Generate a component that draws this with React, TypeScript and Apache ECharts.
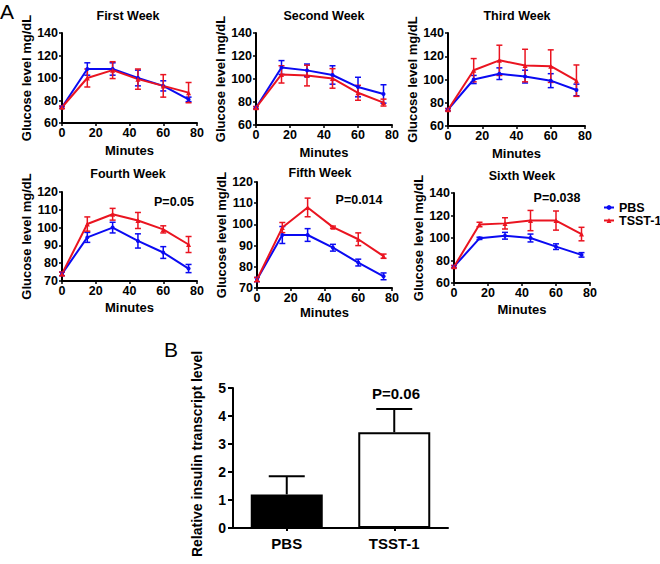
import React, { useEffect, useRef } from "react";
import * as echarts from "echarts";

// ---------- data ----------
const minutes = [0, 15, 30, 45, 60, 75];
const weekTitles = ["First Week", "Second Week", "Third Week", "Fourth Week", "Fifth Week", "Sixth Week"];
const pValues = ["", "", "", "P=0.05", "P=0.014", "P=0.038"];
const seriesNames = ["PBS", "TSST-1"];

const pbsMean = [
  [74, 108, 108, 100, 93, 81],
  [75, 110, 107.5, 103.5, 93, 87],
  [74, 100, 105, 102.5, 99, 91],
  [74, 94.5, 100, 92.5, 86, 77],
  [74, 95, 95, 89, 82, 75.5],
  [74.5, 99.7, 102, 100, 92.3, 85],
];
const pbsErr = [
  [1, 5.5, 5.5, 7, 4.5, 2],
  [1, 6, 5.5, 8, 8.5, 8],
  [1, 3.5, 5, 5.5, 6, 5],
  [1, 2.8, 3, 4, 3.3, 2.3],
  [1, 4, 3, 1.6, 1.6, 1.6],
  [1, 1, 3, 3.5, 2.5, 2],
];
const tsstMean = [
  [74, 100, 107, 99, 93, 87],
  [75, 104, 103, 100.5, 88, 79.5],
  [74, 108, 116.5, 112, 111.5, 99],
  [74, 102, 107.5, 104, 99, 90.5],
  [74, 98.5, 108, 98.7, 93, 85],
  [74.5, 112, 113, 115.5, 115.5, 103.5],
];
const tsstErr = [
  [1, 8, 7.5, 9, 10, 9],
  [1, 7.5, 9, 8.5, 6.5, 3],
  [1, 10, 13, 14, 14, 13.5],
  [1, 4, 3.3, 4.5, 2, 4.5],
  [1, 2.4, 4.4, 0.5, 3, 1],
  [1, 2, 5, 9, 8.5, 6],
];
const yMin = [60, 60, 60, 70, 70, 60];
const yMax = [140, 140, 140, 120, 120, 140];
const yStep = [20, 20, 20, 10, 10, 20];
const xTicks = [0, 80, 20];

const barCategories = ["PBS", "TSST-1"];
const barMeans = [1.2, 3.42];
const barErrs = [0.65, 0.83];
const barTicks = [0, 5, 1];
const barYName = "Relative insulin transcript level";

// ---------- layout / style ----------
const FONT = "Liberation Sans, Arial, Helvetica, sans-serif";
const BLUE = "#0a0af2";
const RED = "#ea1420";
const grids = [
  { left: 62, top: 33, width: 135, height: 90 },
  { left: 256, top: 33, width: 136, height: 92 },
  { left: 448, top: 33, width: 137, height: 93 },
  { left: 62, top: 192, width: 135, height: 89 },
  { left: 257, top: 182, width: 135, height: 106 },
  { left: 454, top: 193, width: 136, height: 90 },
];
const titlePos = [
  [128, 16], [324, 16], [517, 16], [128, 174], [320, 173], [522, 176],
];
const pPos = [
  [0, 0], [0, 0], [0, 0], [174, 202], [359, 200], [557, 198],
];
const nameGapX = [21, 21, 21, 20, 18, 20];

const axisText = { color: "#000", fontFamily: FONT, fontWeight: "bold" as const };

function errRenderer(color: string, capHalf: number, lw: number, upOnly: boolean) {
  return (params: any, api: any) => {
    const x = api.value(0);
    const lo = api.value(1);
    const hi = api.value(2);
    const pLo = api.coord([x, lo]);
    const pHi = api.coord([x, hi]);
    const style = { stroke: color, lineWidth: lw };
    const children: any[] = [
      { type: "line", shape: { x1: pHi[0], y1: pHi[1], x2: pLo[0], y2: pLo[1] }, style },
      { type: "line", shape: { x1: pHi[0] - capHalf, y1: pHi[1], x2: pHi[0] + capHalf, y2: pHi[1] }, style },
    ];
    if (!upOnly) {
      children.push({ type: "line", shape: { x1: pLo[0] - capHalf, y1: pLo[1], x2: pLo[0] + capHalf, y2: pLo[1] }, style });
    }
    return { type: "group", children };
  };
}

export default function App() {
  const ref = useRef<HTMLDivElement>(null);
  useEffect(() => {
    if (!ref.current) return;
    const chart = echarts.init(ref.current, undefined, { renderer: "svg" });

    const gridOpts: any[] = grids.map((g) => ({ ...g, outerBoundsMode: "none", containLabel: false }));
    gridOpts.push({ left: 233, top: 388, width: 215, height: 140, outerBoundsMode: "none", containLabel: false });

    const xAxes: any[] = grids.map((_, i) => ({
      type: "value",
      gridIndex: i,
      min: xTicks[0],
      max: xTicks[1],
      interval: xTicks[2],
      name: "Minutes",
      nameLocation: "middle",
      nameGap: nameGapX[i],
      nameTextStyle: { ...axisText, fontSize: 13 },
      axisLine: { show: true, onZero: false, lineStyle: { color: "#000", width: 2 } },
      axisTick: { show: true, length: 3, lineStyle: { color: "#000", width: 1.5 } },
      axisLabel: { ...axisText, fontSize: 12.5, margin: 3 },
      splitLine: { show: false },
    }));
    xAxes.push({
      type: "value",
      gridIndex: 6,
      min: 0.5,
      max: 2.5,
      axisLine: { show: true, onZero: false, lineStyle: { color: "#000", width: 2 } },
      axisTick: { show: true, length: 3, customValues: [1, 2], lineStyle: { color: "#000", width: 2 } },
      axisLabel: {
        ...axisText,
        fontSize: 15,
        margin: 8,
        customValues: [1, 2],
        formatter: (v: number) => barCategories[Math.round(v) - 1] ?? "",
      },
      splitLine: { show: false },
    });

    const yAxes: any[] = grids.map((_, i) => ({
      type: "value",
      gridIndex: i,
      min: yMin[i],
      max: yMax[i],
      interval: yStep[i],
      name: "Glucose level mg/dL",
      nameLocation: "middle",
      nameGap: 27,
      nameTextStyle: { ...axisText, fontSize: 13 },
      axisLine: { show: true, onZero: false, lineStyle: { color: "#000", width: 2 } },
      axisTick: { show: true, length: 3, lineStyle: { color: "#000", width: 1.5 } },
      axisLabel: { ...axisText, fontSize: 12.5, margin: 4 },
      splitLine: { show: false },
    }));
    yAxes.push({
      type: "value",
      gridIndex: 6,
      min: barTicks[0],
      max: barTicks[1],
      interval: barTicks[2],
      axisLine: { show: true, onZero: false, lineStyle: { color: "#000", width: 2 } },
      axisTick: { show: true, length: 5, lineStyle: { color: "#000", width: 2 } },
      axisLabel: { ...axisText, fontSize: 14, margin: 7 },
      splitLine: { show: false },
    });

    const series: any[] = [];
    grids.forEach((_, i) => {
      const groups = [
        { name: seriesNames[0], mean: pbsMean[i], err: pbsErr[i], color: BLUE, symbol: "circle", size: 4 },
        { name: seriesNames[1], mean: tsstMean[i], err: tsstErr[i], color: RED, symbol: "triangle", size: 5 },
      ];
      groups.forEach((g) => {
        series.push({
          type: "custom",
          name: g.name + " error",
          xAxisIndex: i,
          yAxisIndex: i,
          renderItem: errRenderer(g.color, 3, 1.5, false),
          encode: { x: 0, y: [1, 2] },
          data: minutes.map((m, j) => [m, g.mean[j] - g.err[j], g.mean[j] + g.err[j]]),
          silent: true,
          z: 2,
        });
        series.push({
          type: "line",
          name: g.name,
          xAxisIndex: i,
          yAxisIndex: i,
          data: minutes.map((m, j) => [m, g.mean[j]]),
          symbol: g.symbol,
          symbolSize: g.size,
          showSymbol: true,
          color: g.color,
          itemStyle: { color: g.color },
          lineStyle: { color: g.color, width: 2 },
          z: 3,
        });
      });
    });

    series.push({
      type: "bar",
      name: "Insulin",
      xAxisIndex: 6,
      yAxisIndex: 6,
      barWidth: 72,
      data: barCategories.map((_, i) => ({
        value: [i + 1, barMeans[i]],
        itemStyle: { color: i === 0 ? "#000" : "#fff", borderColor: "#000", borderWidth: 2 },
      })),
      z: 2,
    });
    series.push({
      type: "custom",
      name: "Insulin error",
      xAxisIndex: 6,
      yAxisIndex: 6,
      renderItem: errRenderer("#000", 18, 2, true),
      encode: { x: 0, y: [1, 2] },
      data: barCategories.map((_, i) => [i + 1, barMeans[i], barMeans[i] + barErrs[i]]),
      silent: true,
      z: 3,
    });

    const textEl = (text: string, x: number, y: number, size: number, weight = "bold", rotation = 0) => ({
      type: "text",
      x,
      y,
      rotation,
      style: {
        text,
        x: 0,
        y: 0,
        fill: "#000",
        font: `${weight} ${size}px ${FONT}`,
        textAlign: "center",
        textVerticalAlign: "middle",
      },
    });

    const graphics: any[] = [];
    weekTitles.forEach((t, i) => graphics.push(textEl(t, titlePos[i][0], titlePos[i][1], 12.5)));
    pValues.forEach((p, i) => {
      if (p) graphics.push(textEl(p, pPos[i][0], pPos[i][1], 12.5));
    });
    graphics.push(textEl("P=0.06", 396, 393, 15));
    graphics.push(textEl(barYName, 197, 454, 14, "bold", Math.PI / 2));
    graphics.push(textEl("A", 7, 11, 21, "normal"));
    graphics.push(textEl("B", 171, 349, 21, "normal"));

    chart.setOption({
      animation: false,
      backgroundColor: "#fff",
      grid: gridOpts,
      xAxis: xAxes,
      yAxis: yAxes,
      series,
      legend: {
        data: seriesNames,
        orient: "vertical",
        left: 598,
        top: 196,
        itemGap: 0,
        itemWidth: 10,
        itemHeight: 6,
        textStyle: { ...axisText, fontSize: 12.5, lineHeight: 11 },
        selectedMode: false,
      },
      graphic: graphics,
    });
    return () => chart.dispose();
  }, []);
  return <div ref={ref} style={{ position: "absolute", left: 0, top: 0, width: 660, height: 564 }} />;
}
